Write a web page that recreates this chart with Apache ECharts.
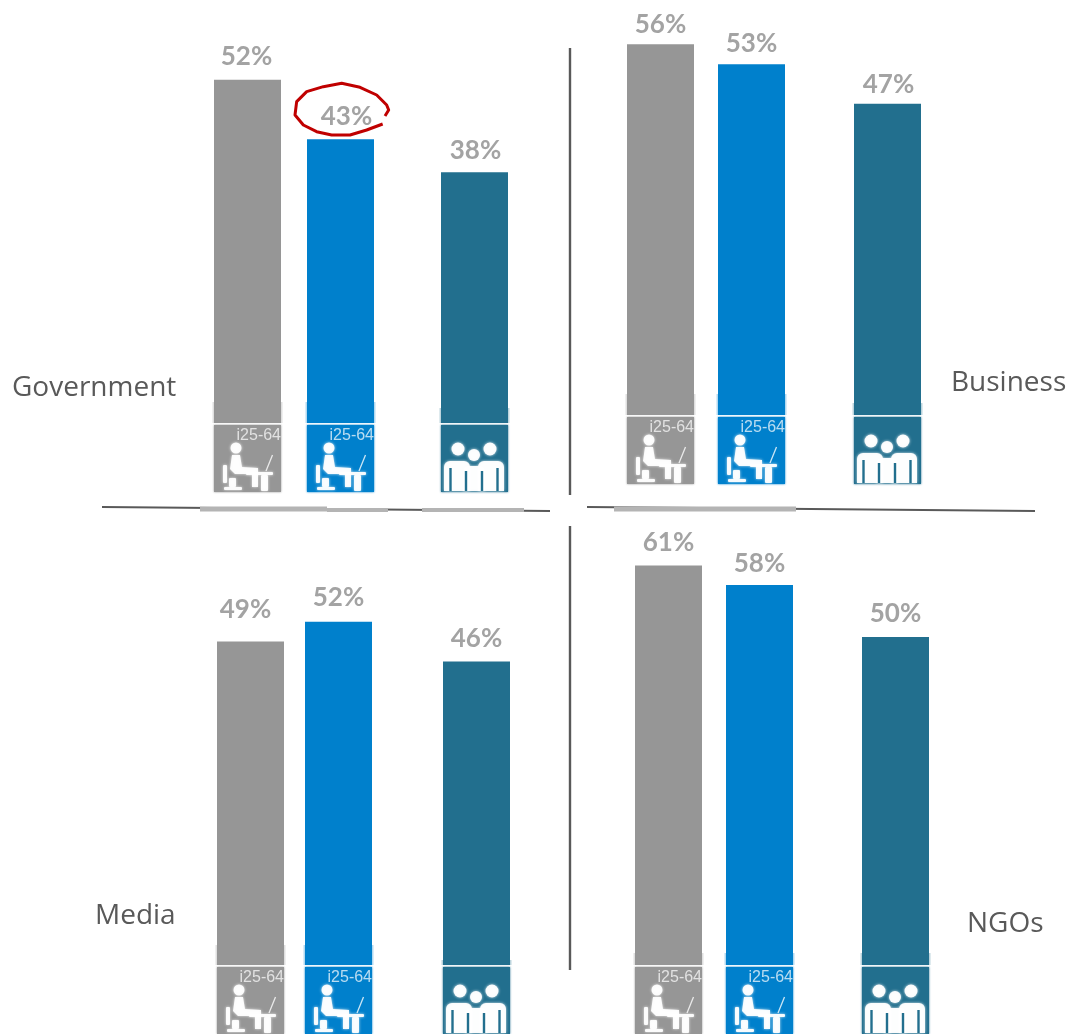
<!DOCTYPE html>
<html><head><meta charset="utf-8">
<style>html,body{margin:0;padding:0;background:#fff}#c{width:1070px;height:1034px}</style>
<script src="https://cdn.jsdelivr.net/npm/echarts@6/dist/echarts.min.js"></script>
</head><body><div id="c"></div>
<script>
// ---- data ----
const panelNames = ['Government', 'Business', 'Media', 'NGOs'];
const audiences = ['Employed 25-64 (grey)', 'Employed 25-64 (blue)', 'General population'];
const government = [52, 43, 38];
const business = [56, 53, 47];
const media = [49, 52, 46];
const ngos = [61, 58, 50];
const iconLabel = 'i25-64';
// ---- styles / layout ----
const colors = ['#969696', '#0080CC', '#226F8E'];
const panels = [
  {values: government, left: 214, base: 423, iconY: 423, slope: 6.6, slots: [33.5, 126.5, 260.5], patch: [21, 21, 15],
    shift: [[-1, -3], [6, -3], [1, -2]]},
  {values: business, left: 627, base: 415, iconY: 415, slope: 6.62, slots: [33.5, 124.5, 260.5], patch: [21, 21, 12],
    shift: [[0, 0], [0, -1], [1, 1]]},
  {values: media, left: 217, base: 965, iconY: 965, slope: 6.6, slots: [33.5, 121.5, 259.5], patch: [20, 20, 5],
    shift: [[-5, -12], [0, -4], [0, -3]]},
  {values: ngos, left: 635, base: 962, iconY: 965, slope: 6.5, slots: [33.5, 124.5, 260.5], patch: [12, 12, 12],
    shift: [[0, -3], [0, -1], [0, -3]]}
];
const W = 300, axisMax = 62, BW = 67;

function seated() {
  const w = '#fff', s = {fill: w, opacity: .93, shadowBlur: 3, shadowColor: 'rgba(255,255,255,.85)'};
  const r = (x, y, wd, h) => ({type: 'rect', shape: {x, y, width: wd, height: h, r: 1}, style: s});
  return [
    {type: 'text', style: {text: iconLabel, x: 67, y: 3, align: 'right', verticalAlign: 'top', fill: 'rgba(255,255,255,.72)', font: '16px "Liberation Sans"'}},
    {type: 'circle', shape: {cx: 22, cy: 23, r: 5.5}, style: s},
    {type: 'polygon', shape: {points: [[18,30],[26,30],[28,42],[44,43],[44,62],[38,62],[38,49],[21,49],[16,44]]}, style: s},
    r(9, 40, 4, 18), r(10, 62, 18, 3), r(15, 53, 7, 9),
    r(32, 47, 27, 3), r(47, 50, 7, 16),
    {type: 'line', shape: {x1: 52, y1: 46, x2: 58.5, y2: 30}, style: {stroke: w, lineWidth: 1.3, opacity: .8}}
  ];
}
function family(color) {
  const s = {fill: '#fff', opacity: .95, shadowBlur: 3, shadowColor: 'rgba(255,255,255,.85)'};
  const slit = (x, y) => ({type: 'line', shape: {x1: x, y1: y, x2: x, y2: 66}, style: {stroke: color, lineWidth: 2.4}});
  return [
    {type: 'circle', shape: {cx: 17, cy: 24, r: 6.5}, style: s},
    {type: 'circle', shape: {cx: 49, cy: 24, r: 6.5}, style: s},
    {type: 'circle', shape: {cx: 33, cy: 30, r: 6}, style: s},
    {type: 'rect', shape: {x: 3, y: 36, width: 26, height: 30, r: [6,6,0,0]}, style: s},
    {type: 'rect', shape: {x: 37, y: 36, width: 26, height: 30, r: [6,6,0,0]}, style: s},
    {type: 'rect', shape: {x: 22, y: 41, width: 22, height: 25, r: [6,6,0,0]}, style: s},
    slit(9.5, 43), slit(25, 46), slit(41, 46), slit(56.5, 43)
  ];
}

const grid = [], xAxis = [], yAxis = [], series = [];
panels.forEach((p, i) => {
  const h = axisMax * p.slope;
  grid.push({left: p.left, top: p.base - h, width: W, height: h});
  xAxis.push({type: 'value', gridIndex: i, min: 0, max: W, show: false});
  yAxis.push({type: 'value', gridIndex: i, min: 0, max: axisMax, show: false, splitLine: {show: false}});
  series.push({
    type: 'bar', name: panelNames[i], xAxisIndex: i, yAxisIndex: i, barWidth: BW,
    data: p.values.map((v, k) => ({value: [p.slots[k], v], name: audiences[k], itemStyle: {color: colors[k]},
      label: {offset: p.shift[k]}})),
    label: {show: true, position: 'top', distance: 7, color: '#A3A3A3',
      fontFamily: 'Lato', fontWeight: 'bold', fontSize: 26,
      formatter: d => d.value[1] + '%'},
    silent: true, z: 2, animation: false
  });
  series.push({
    type: 'custom', xAxisIndex: i, yAxisIndex: i, clip: false, silent: true, z: 3, animation: false,
    data: p.slots.map((x, k) => [x, 0, k]),
    renderItem: (params, api) => {
      const k = api.value(2), c = api.coord([api.value(0), 0]), col = colors[k];
      const x0 = Math.round(c[0] - BW / 2), y0 = p.iconY, ph = p.patch[k];
      return {type: 'group', children: [
        {type: 'rect', shape: {x: x0 - 1.5, y: y0 - ph, width: BW + 3, height: ph}, style: {fill: col, opacity: .3}},
        {type: 'rect', shape: {x: x0, y: y0 - ph, width: BW, height: ph}, style: {fill: col}},
        {type: 'rect', shape: {x: x0 - 2, y: y0, width: BW + 4, height: 2}, style: {fill: 'rgba(255,255,255,.9)'}},
        {type: 'rect', shape: {x: x0, y: y0 + 2, width: BW, height: 67}, style: {fill: col, shadowBlur: 2, shadowColor: col}},
        {type: 'group', x: x0, y: y0 + 2, children: k === 2 ? family(col) : seated()}
      ]};
    }
  });
});

const ln = (x1, y1, x2, y2, stroke, lineWidth) => ({type: 'line', shape: {x1, y1, x2, y2}, style: {stroke, lineWidth}, silent: true, z: 5});
const nameText = (text, x, y) => ({type: 'text', x, y, z: 6, style: {text, fill: '#595959', font: '28px "Open Sans"', verticalAlign: 'middle'}});
const ring = [[548,282],[500,300],[450,315],[395,315],[350,305],[310,285],[285,255],[290,215],[320,185],[370,170],[425,160],[480,172],[530,195],[560,225],[566,240],[555,258]]
  .map(p => [200 + p[0] / 3, 30 + p[1] / 3]);

const chart = echarts.init(document.getElementById('c'), null, {renderer: 'canvas'});
chart.setOption({
  backgroundColor: '#fff', animation: false, grid, xAxis, yAxis, series,
  graphic: [
    ln(570, 48, 570, 495, '#595959', 2.4),
    ln(570, 526, 570, 970, '#595959', 2.4),
    ln(102, 507, 550, 511, '#595959', 2),
    ln(587, 507, 1035, 511, '#595959', 2),
    ln(200, 509, 327, 509, '#B4B4B4', 5),
    ln(327, 510, 388, 510, '#B4B4B4', 4),
    ln(422, 510, 524, 510, '#B4B4B4', 4),
    ln(614, 509, 796, 509, '#B4B4B4', 5),
    nameText(panelNames[0], 12, 388),
    nameText(panelNames[1], 951, 383),
    nameText(panelNames[2], 95, 916),
    nameText(panelNames[3], 967, 924),
    {type: 'polyline', z: 7, silent: true, shape: {points: ring}, style: {stroke: '#C00000', lineWidth: 3, fill: null, lineJoin: 'round'}}
  ]
});
</script></body></html>
